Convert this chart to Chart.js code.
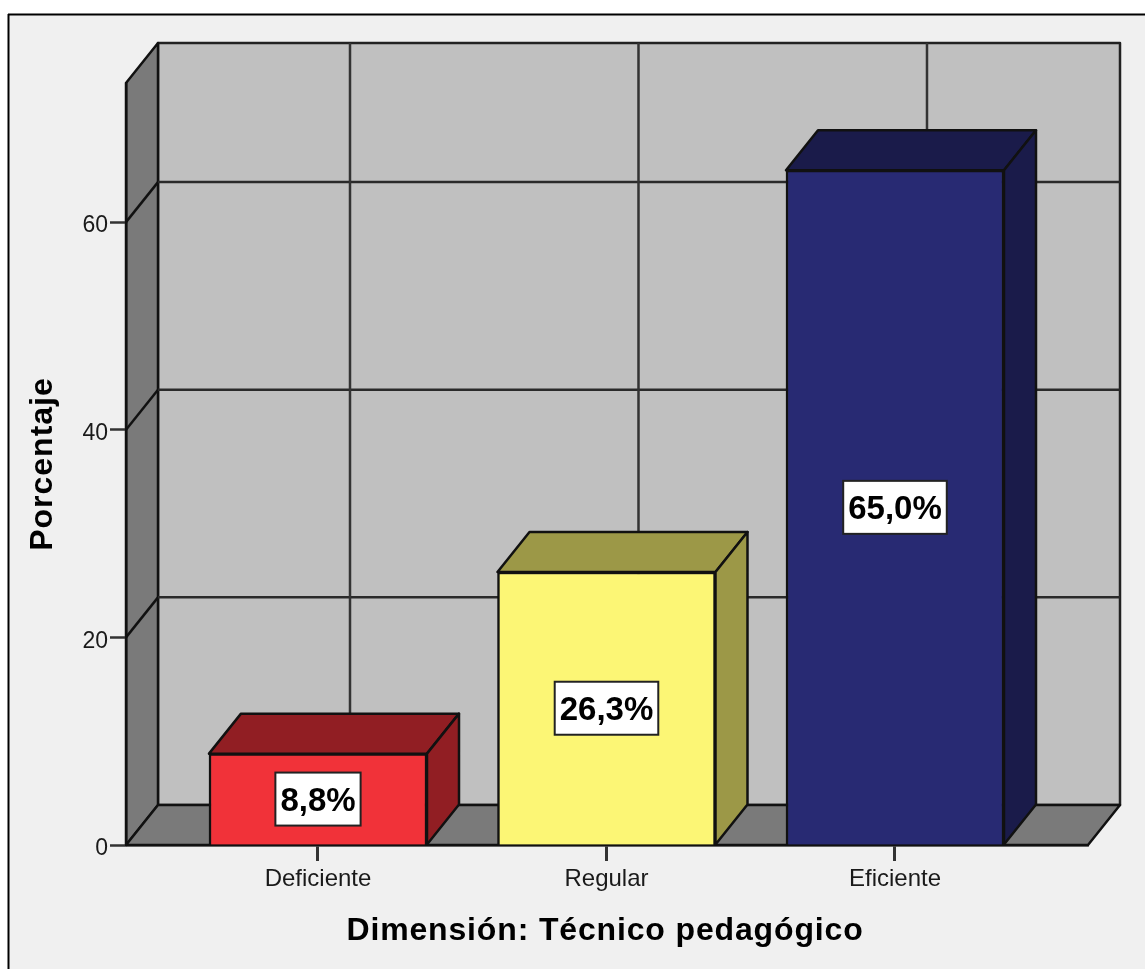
<!DOCTYPE html>
<html><head><meta charset="utf-8">
<style>html,body{margin:0;padding:0;background:#fff}canvas{display:block;filter:blur(0.6px)}</style>
<script src="https://cdn.jsdelivr.net/npm/chart.js@4"></script>
</head><body><canvas id="c" width="1145" height="969"></canvas>
<script>
const categories = ["Deficiente","Regular","Eficiente"];
const percentages = [8.8,26.3,65.0];
const percentLabels = ["8,8%","26,3%","65,0%"];
const yTickValues = [0,20,40,60];
const frontColors = ["#f13239","#fcf675","#282a73"];
const shadeColors = ["#911e23","#9c9847","#1a1b4a"];
const yTitle = "Porcentaje";
const xTitle = "Dimensión: Técnico pedagógico";

const DX = 32, DY = -40;
const LW = 2.5;
const FONT = "'Liberation Sans', Arial, sans-serif";

function poly(ctx, pts, fill, stroke, lw){
  ctx.beginPath();
  pts.forEach((p,i)=> i?ctx.lineTo(p[0],p[1]):ctx.moveTo(p[0],p[1]));
  ctx.closePath();
  if(fill){ctx.fillStyle=fill;ctx.fill();}
  if(stroke){ctx.strokeStyle=stroke;ctx.lineWidth=lw||LW;ctx.lineJoin='round';ctx.stroke();}
}
function seg(ctx,x1,y1,x2,y2,color,lw){
  ctx.beginPath();ctx.moveTo(x1,y1);ctx.lineTo(x2,y2);
  ctx.strokeStyle=color;ctx.lineWidth=lw;ctx.stroke();
}
function spacedTitle(scale,spacing,shift){
  if(scale._spaced) return;
  scale._spaced = true;
  const orig = scale.drawTitle;
  scale.drawTitle = function(){
    const c=this.ctx;
    c.save();
    c.letterSpacing=spacing;
    c.translate(shift,0);
    orig.call(this);
    c.restore();
  };
}

const box3d = {
  id:'box3d',
  beforeDraw(chart){
    const {ctx,scales:{x,y}} = chart;
    const L=x.left,R=x.right,T=y.top,B=y.bottom;
    ctx.save();
    ctx.fillStyle='#ffffff';ctx.fillRect(0,0,chart.width,chart.height);
    ctx.fillStyle='#f0f0f0';ctx.fillRect(8,14,chart.width,chart.height);
    seg(ctx,8.5,14,8.5,chart.height,'#000',2);
    seg(ctx,8,14.5,chart.width,14.5,'#000',2);
    poly(ctx,[[L+DX,T+DY],[R+DX,T+DY],[R+DX,B+DY],[L+DX,B+DY]],'#c0c0c0','#222');
    poly(ctx,[[L,T],[L+DX,T+DY],[L+DX,B+DY],[L,B]],'#7a7a7a','#111');
    poly(ctx,[[L,B],[L+DX,B+DY],[R+DX,B+DY],[R,B]],'#7a7a7a','#111');
    yTickValues.slice(1).forEach(v=>{
      const py=y.getPixelForValue(v);
      seg(ctx,L,py,L+DX,py+DY,'#111',LW);
      seg(ctx,L+DX,py+DY,R+DX,py+DY,'#2a2a2a',LW);
    });
    categories.forEach((_,i)=>{
      const px=x.getPixelForValue(i)+DX;
      seg(ctx,px,T+DY,px,B+DY,'#333',LW);
    });
    ctx.restore();
  },
  beforeDatasetsDraw(chart){
    const ctx=chart.ctx;
    ctx.save();
    chart.getDatasetMeta(0).data.forEach((bar,i)=>{
      const {x,y,base,width}=bar.getProps(['x','y','base','width'],true);
      const l=x-width/2,r=x+width/2;
      poly(ctx,[[l,y],[l+DX,y+DY],[r+DX,y+DY],[r,y]],shadeColors[i],'#111');
      poly(ctx,[[r,y],[r+DX,y+DY],[r+DX,base+DY],[r,base]],shadeColors[i],'#111');
    });
    ctx.restore();
  },
  afterDatasetsDraw(chart){
    const ctx=chart.ctx;
    ctx.save();
    ctx.font="bold 33px "+FONT;
    ctx.textAlign='center';ctx.textBaseline='middle';
    chart.getDatasetMeta(0).data.forEach((bar,i)=>{
      const {x,y,base}=bar.getProps(['x','y','base'],true);
      const cy=(y+base)/2;
      const w=ctx.measureText(percentLabels[i]).width+10, h=53;
      ctx.fillStyle='#fff';ctx.fillRect(x-w/2,cy-h/2,w,h);
      ctx.strokeStyle='#222';ctx.lineWidth=2;ctx.strokeRect(x-w/2,cy-h/2,w,h);
      ctx.fillStyle='#000';ctx.fillText(percentLabels[i],x,cy+2.5);
    });
    ctx.restore();
  }
};

new Chart(document.getElementById('c'),{
  type:'bar',
  data:{
    labels:categories,
    datasets:[{
      data:categories.map((_,i)=>({x:i,y:percentages[i]})),
      backgroundColor:frontColors,
      borderColor:'#111',
      borderWidth:2.5,
      barThickness:218
    }]
  },
  plugins:[box3d],
  options:{
    responsive:false,
    animation:false,
    events:[],
    layout:{padding:{left:0,right:57,top:83,bottom:0}},
    plugins:{legend:{display:false},tooltip:{enabled:false}},
    scales:{
      x:{
        type:'linear',min:-0.6655,max:2.669,offset:false,
        afterBuildTicks(s){s.ticks=categories.map((_,i)=>({value:i}));},
        afterFit(s){s.height=124;spacedTitle(s,'0.85px',-2);},
        grid:{offset:false,drawOnChartArea:false,drawTicks:true,tickLength:16,tickWidth:3,tickColor:'#333'},
        border:{color:'#111',width:2.5},
        ticks:{autoSkip:false,maxRotation:0,minRotation:0,padding:4,color:'#1a1a1a',
          font:{family:FONT,size:24},
          callback:v=>categories[v]},
        title:{display:true,text:xTitle,color:'#000',
          font:{family:FONT,size:32,weight:'bold'},padding:{top:19,bottom:19}}
      },
      y:{
        min:0,max:73.4,
        afterBuildTicks(s){s.ticks=yTickValues.map(v=>({value:v}));},
        afterFit(s){s.width=126;spacedTitle(s,'1px',0);},
        grid:{drawOnChartArea:false,drawTicks:true,tickLength:16,tickWidth:2.5,tickColor:'#333'},
        border:{color:'#111',width:2.5},
        ticks:{padding:2,labelOffset:4,color:'#1a1a1a',font:{family:FONT,size:23}},
        title:{display:true,text:yTitle,color:'#000',
          font:{family:FONT,size:32,weight:'bold'},padding:{top:24,bottom:24}}
      }
    }
  }
});
</script></body></html>
